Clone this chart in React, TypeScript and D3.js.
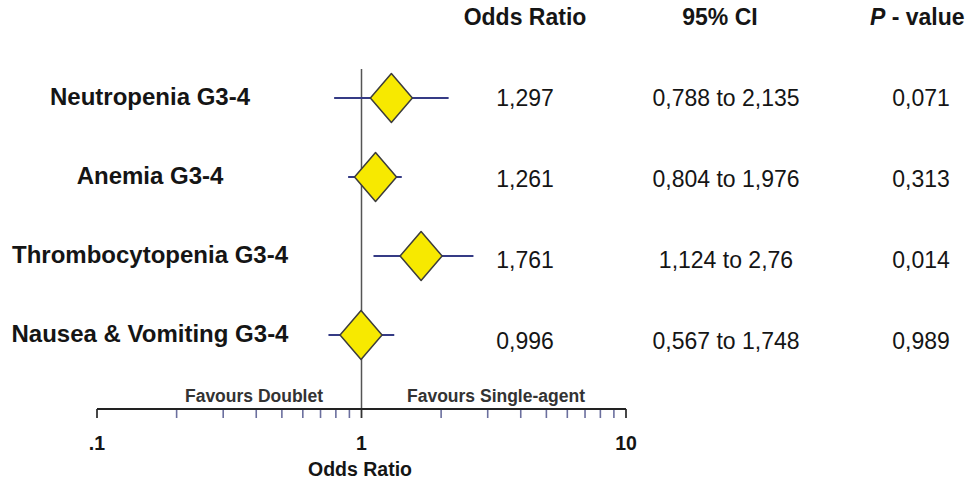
import React, { useRef, useEffect } from 'react';
import * as d3 from 'd3';

// rows of the forest plot
const outcomes = ['Neutropenia G3-4', 'Anemia G3-4', 'Thrombocytopenia G3-4', 'Nausea & Vomiting G3-4'];
// values as drawn in the plot
const plotOR = [1.297, 1.13, 1.68, 0.996];
const plotLow = [0.788, 0.89, 1.11, 0.75];
const plotHigh = [2.135, 1.42, 2.65, 1.33];
// table columns
const orText = ['1,297', '1,261', '1,761', '0,996'];
const ciText = ['0,788 to 2,135', '0,804 to 1,976', '1,124 to 2,76', '0,567 to 1,748'];
const pText = ['0,071', '0,313', '0,014', '0,989'];
const tickValues = [0.1, 1, 10];
const tickLabels = ['.1', '1', '10'];
const minorTicks = [0.2, 0.3, 0.4, 0.5, 0.6, 0.7, 0.8, 0.9, 2, 3, 4, 5, 6, 7, 8, 9];

export default function App() {
  const width = 974;
  const height = 479;
  const svgRef = useRef(null);

  useEffect(() => {
    const svg = d3.select(svgRef.current);
    svg.selectAll('*').remove();

    const font = '"Liberation Sans", Arial, sans-serif';
    const ink = '#151515';

    const x = d3.scaleLog().domain([0.1, 10]).range([97, 626]);
    const y = d3.scalePoint().domain(d3.range(outcomes.length)).range([98, 335]);
    const yTable = d3.scalePoint().domain(d3.range(outcomes.length)).range([98, 341]);
    const axisY = 409;

    svg.append('rect').attr('width', width).attr('height', height).attr('fill', '#fff');

    // header
    const header = svg.append('g').attr('font-family', font).attr('font-weight', 'bold')
      .attr('font-size', 23).attr('fill', ink);
    header.append('text').attr('x', 525).attr('y', 17).attr('dominant-baseline', 'central')
      .attr('text-anchor', 'middle').text('Odds Ratio');
    header.append('text').attr('x', 720).attr('y', 17).attr('dominant-baseline', 'central')
      .attr('text-anchor', 'middle').text('95% CI');
    const pv = header.append('text').attr('x', 870).attr('y', 17).attr('dominant-baseline', 'central');
    pv.append('tspan').attr('font-style', 'italic').text('P');
    pv.append('tspan').text(' - value');

    // row labels
    svg.append('g').selectAll('text').data(outcomes).join('text')
      .attr('x', 150).attr('y', (d, i) => y(i) - 2)
      .attr('dominant-baseline', 'central').attr('text-anchor', 'middle')
      .attr('font-family', font).attr('font-weight', 'bold').attr('font-size', 24)
      .attr('fill', ink).text(d => d);

    // table values
    const cols = [[525, orText], [726, ciText], [921, pText]];
    cols.forEach(([cx, vals]) => {
      svg.append('g').selectAll('text').data(vals).join('text')
        .attr('x', cx).attr('y', (d, i) => yTable(i))
        .attr('dominant-baseline', 'central').attr('text-anchor', 'middle')
        .attr('font-family', font).attr('font-size', 23).attr('fill', ink)
        .text(d => d);
    });

    // line of no effect
    svg.append('line').attr('x1', x(1)).attr('x2', x(1)).attr('y1', 69).attr('y2', axisY)
      .attr('stroke', '#555').attr('stroke-width', 1.5);

    // CI lines
    svg.append('g').selectAll('line').data(outcomes).join('line')
      .attr('x1', (d, i) => x(plotLow[i])).attr('x2', (d, i) => x(plotHigh[i]))
      .attr('y1', (d, i) => y(i)).attr('y2', (d, i) => y(i))
      .attr('stroke', '#353b85').attr('stroke-width', 2);

    // diamonds
    const hw = 21, hh = 24.5;
    svg.append('g').selectAll('path').data(outcomes).join('path')
      .attr('d', (d, i) => {
        const cx = x(plotOR[i]), cy = y(i);
        return `M${cx - hw},${cy}L${cx},${cy - hh}L${cx + hw},${cy}L${cx},${cy + hh}Z`;
      })
      .attr('fill', '#f7e900').attr('stroke', '#3c3c3c').attr('stroke-width', 1.5)
      .attr('stroke-linejoin', 'round');

    // axis
    const ax = svg.append('g');
    ax.selectAll('line.minor').data(minorTicks).join('line').attr('class', 'minor')
      .attr('x1', d => x(d)).attr('x2', d => x(d)).attr('y1', axisY).attr('y2', axisY + 9)
      .attr('stroke', '#6b6f9e').attr('stroke-width', 1.6);
    ax.selectAll('line.major').data(tickValues).join('line').attr('class', 'major')
      .attr('x1', d => x(d)).attr('x2', d => x(d)).attr('y1', axisY).attr('y2', axisY + 9)
      .attr('stroke', '#333').attr('stroke-width', 1.8);
    ax.append('line').attr('x1', x(0.1)).attr('x2', x(10)).attr('y1', axisY).attr('y2', axisY)
      .attr('stroke', '#222').attr('stroke-width', 2);
    ax.selectAll('text.tick').data(tickValues).join('text').attr('class', 'tick')
      .attr('x', d => x(d)).attr('y', 443).attr('dominant-baseline', 'central')
      .attr('text-anchor', 'middle').attr('font-family', font).attr('font-weight', 'bold')
      .attr('font-size', 19.5).attr('fill', ink).text((d, i) => tickLabels[i]);
    ax.append('text').attr('x', 360).attr('y', 469).attr('dominant-baseline', 'central')
      .attr('text-anchor', 'middle').attr('font-family', font).attr('font-weight', 'bold')
      .attr('font-size', 19.5).attr('fill', ink).text('Odds Ratio');

    // favours labels
    ax.append('text').attr('x', 254).attr('y', 396).attr('dominant-baseline', 'central')
      .attr('text-anchor', 'middle').attr('font-family', font).attr('font-weight', 'bold')
      .attr('font-size', 17.5).attr('fill', '#333').text('Favours Doublet');
    ax.append('text').attr('x', 496).attr('y', 396).attr('dominant-baseline', 'central')
      .attr('text-anchor', 'middle').attr('font-family', font).attr('font-weight', 'bold')
      .attr('font-size', 17.5).attr('fill', '#333').text('Favours Single-agent');
  }, []);

  return (
    <svg ref={svgRef} width={width} height={height}
      style={{ position: 'fixed', left: 0, top: 0, display: 'block' }} />
  );
}
